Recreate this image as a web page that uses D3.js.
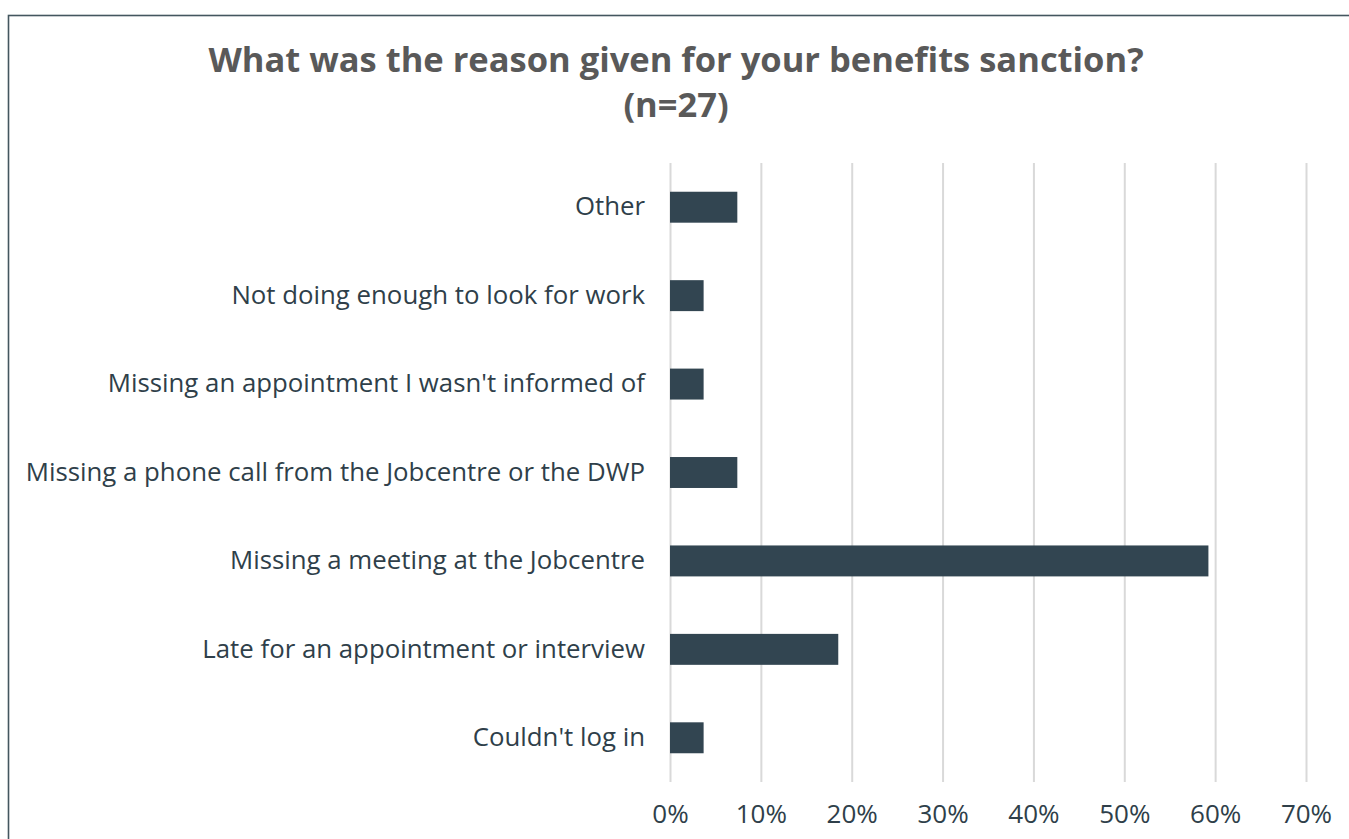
<!DOCTYPE html>
<html>
<head>
<meta charset="utf-8">
<script src="https://cdn.jsdelivr.net/npm/d3@7"></script>
<style>
  body { margin: 0; background: #fff; }
  svg { display: block; font-family: "Open Sans", "DejaVu Sans", sans-serif; }
</style>
</head>
<body>
<svg id="chart" width="1349" height="839"></svg>
<script>
// categories, top to bottom
let categories = [
    "Other",
    "Not doing enough to look for work",
    "Missing an appointment I wasn't informed of",
    "Missing a phone call from the Jobcentre or the DWP",
    "Missing a meeting at the Jobcentre",
    "Late for an appointment or interview",
    "Couldn't log in"
];
let values = [0.0741, 0.037, 0.037, 0.0741, 0.5926, 0.1852, 0.037];
let tickValues = [0, 0.1, 0.2, 0.3, 0.4, 0.5, 0.6, 0.7];
let titleLines = ["What was the reason given for your benefits sanction?", "(n=27)"];

let svg = d3.select("#chart");
let width = +svg.attr("width");
let height = +svg.attr("height");

let padding = { top: 163, right: 43, bottom: 57, left: 670 };
let plotBottom = 782;

// outer frame, runs off right and bottom edge like the original
svg.append("rect")
    .attr("x", 8.5)
    .attr("y", 15.5)
    .attr("width", width + 20)
    .attr("height", height + 20)
    .attr("fill", "none")
    .attr("stroke", "#44565f")
    .attr("stroke-width", 1.6);

svg.selectAll(".title")
    .data(titleLines)
    .enter()
    .append("text")
    .classed("title", true)
    .attr("x", 676)
    .attr("y", (d, i) => 72 + i * 45)
    .attr("text-anchor", "middle")
    .attr("font-size", "34.5px")
    .attr("font-weight", "bold")
    .attr("fill", "#595959")
    .text(d => d);

let xScale = d3.scaleLinear()
    .domain([0, 0.7])
    .range([padding.left, width - padding.right]);

let yBand = d3.scaleBand()
    .domain(categories)
    .range([padding.top, plotBottom])
    .paddingInner(0.65)
    .paddingOuter(0.325);

// vertical gridlines
let xAxis = d3.axisBottom(xScale)
    .tickValues(tickValues)
    .tickFormat(d3.format(".0%"))
    .tickSize(-(plotBottom - padding.top));

let gx = svg.append("g")
    .attr("transform", "translate(0," + plotBottom + ")")
    .call(xAxis);
gx.select(".domain").remove();
gx.selectAll(".tick line")
    .attr("stroke", "#d9d9d9")
    .attr("stroke-width", 2);
gx.selectAll(".tick text")
    .attr("y", 41)
    .attr("dy", 0)
    .attr("font-size", "26px")
    .attr("font-family", "\"Open Sans\", sans-serif")
    .attr("fill", "#2f3f4a");

let yAxis = d3.axisLeft(yBand).tickSize(0).tickPadding(25);
let gy = svg.append("g")
    .attr("transform", "translate(" + padding.left + ",0)")
    .call(yAxis);
gy.select(".domain").remove();
gy.selectAll(".tick text")
    .attr("font-size", "25.8px")
    .attr("font-family", "\"Open Sans\", sans-serif")
    .attr("fill", "#2f3f4a");

svg.selectAll(".bar")
    .data(categories)
    .enter()
    .append("rect")
    .classed("bar", true)
    .attr("x", xScale(0))
    .attr("y", d => yBand(d))
    .attr("width", (d, i) => xScale(values[i]) - xScale(0))
    .attr("height", yBand.bandwidth())
    .attr("fill", "#324551");
</script>
</body>
</html>
